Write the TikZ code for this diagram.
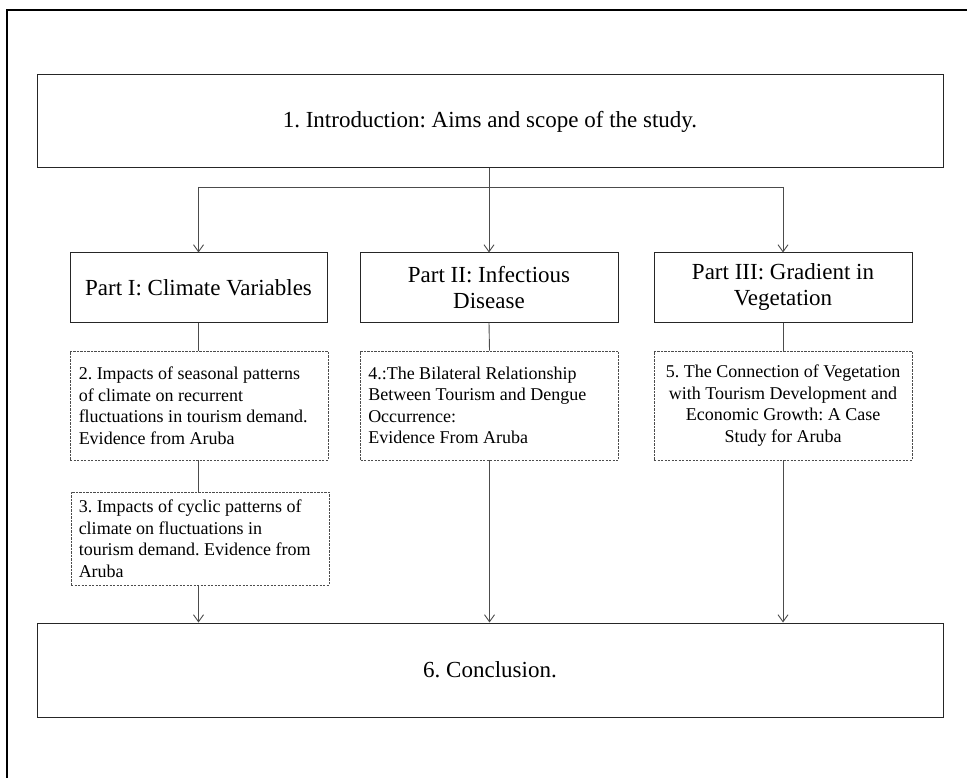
\documentclass[tikz,border=0pt]{standalone}
\usepackage{fontspec}
\setmainfont{Liberation Serif}
\usetikzlibrary{arrows.meta}
\frenchspacing
\begin{document}
\begin{tikzpicture}[x=1pt,y=-1pt,
  solidbox/.style={draw=black!85, line width=1pt, rectangle, inner sep=0pt, align=center},
  dashbox/.style={draw=black!70, line width=0.9pt, dash pattern=on 2.2pt off 1.3pt, rectangle, inner sep=0pt, minimum width=258pt},
  boxtext/.style={inner sep=0pt, font=\fontsize{18}{21.5}\selectfont},
  conn/.style={draw=black!70, line width=0.9pt},
  arr/.style={conn, -{Straight Barb[length=7pt,width=10pt]}},
  bigfont/.style={font=\fontsize{23}{26}\selectfont}]
\useasboundingbox (0,0) rectangle (967,778);
\draw[line width=2.2pt] (7,778) -- (7,10) -- (967,10);

\node[solidbox, minimum width=906pt, minimum height=93pt, bigfont] (intro) at (490,121.5) {1. Introduction: Aims and scope of the study.};
\node[solidbox, minimum width=257pt, minimum height=69pt, bigfont] (p1) at (198.5,287.5) {Part I: Climate Variables};
\node[solidbox, minimum width=258pt, minimum height=69pt, bigfont] (p2) at (489,287.5) {Part II: Infectious\\Disease};
\node[solidbox, minimum width=258pt, minimum height=69pt, bigfont] (p3) at (783,287.5) {Part III: Gradient in\\Vegetation};

\node[dashbox, minimum height=109pt] (b2) at (199,405.5) {};
\node[boxtext, align=left, anchor=west] (t2) at ([xshift=9pt]b2.west) {2. Impacts of seasonal patterns\\of climate on recurrent\\fluctuations in tourism demand.\\Evidence from Aruba};
\node[dashbox, minimum height=93pt] (b3) at (200,538.5) {};
\node[boxtext, align=left, anchor=west] (t3) at ([xshift=8pt]b3.west) {3. Impacts of cyclic patterns of\\climate on fluctuations in\\tourism demand. Evidence from\\Aruba};
\node[dashbox, minimum height=109pt] (b4) at (489.5,405.5) {};
\node[boxtext, align=left, anchor=west] (t4) at ([xshift=8pt]b4.west) {4.:The Bilateral Relationship\\Between Tourism and Dengue\\Occurrence:\\Evidence From Aruba};
\node[dashbox, minimum height=109pt] (b5) at (783,405.5) {};
\node[boxtext, align=center] (t5) at (b5.center) {5. The Connection of Vegetation\\with Tourism Development and\\Economic Growth: A Case\\Study for Aruba};

\node[solidbox, minimum width=906pt, minimum height=94pt, bigfont] (concl) at (490,670) {6. Conclusion.};

\coordinate (br) at (489,187);
\draw[arr] (p2.north |- intro.south) -- (p2.north);
\draw[conn] (p1.north |- br) -- (p3.north |- br);
\draw[arr] (p1.north |- br) -- (p1.north);
\draw[arr] (p3.north |- br) -- (p3.north);
\draw[conn] (p1.south) -- (p1.south |- b2.north);
\draw[conn] (p1.south |- b2.south) -- (p1.south |- b3.north);
\draw[arr] (p1.south |- b3.south) -- (p1.south |- concl.north);
\draw[conn] (p2.south) -- (b4.north);
\draw[arr] (b4.south) -- (b4.south |- concl.north);
\draw[conn] (p3.south) -- (b5.north);
\draw[arr] (b5.south) -- (b5.south |- concl.north);
\end{tikzpicture}
\end{document}
